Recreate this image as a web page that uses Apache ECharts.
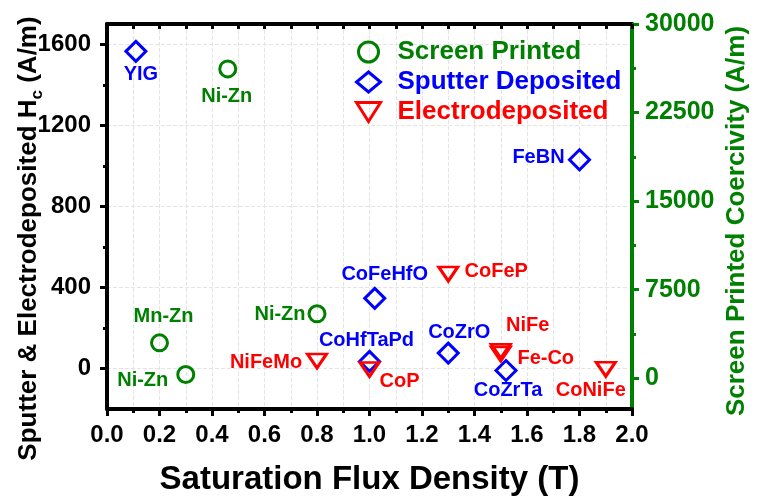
<!DOCTYPE html>
<html>
<head>
<meta charset="utf-8">
<script src="https://cdn.jsdelivr.net/npm/echarts@6/dist/echarts.min.js"></script>
<style>
  html, body { margin: 0; padding: 0; background: #fff; }
  #chart { width: 758px; height: 496px; }
</style>
</head>
<body>
<div id="chart"></div>
<script>
// Soft-magnetic materials: coercivity vs. saturation flux density

// Screen printed ferrites (right axis, A/m)
const screenNames = ['Mn-Zn', 'Ni-Zn', 'Ni-Zn', 'Ni-Zn'];
const screenBs    = [0.20, 0.30, 0.46, 0.80];
const screenHc    = [3000, 320, 26200, 5460];

// Sputter deposited films (left axis, A/m)
const sputterNames = ['YIG', 'FeBN', 'CoFeHfO', 'CoHfTaPd', 'CoZrO', 'CoZrTa'];
const sputterBs    = [0.11, 1.80, 1.02, 1.00, 1.30, 1.52];
const sputterHc    = [1565, 1030, 346, 35, 76, -10];

// Electrodeposited films (left axis, A/m)
const electroNames = ['CoFeP', 'NiFeMo', 'CoP', 'NiFe', 'Fe-Co', 'CoNiFe'];
const electroBs    = [1.30, 0.80, 1.00, 1.50, 1.50, 1.90];
const electroHc    = [466, 37, -5, 85, 72, -4];

// Axis tick values
const leftTicks  = [0, 400, 800, 1200, 1600];
const leftMinor  = [200, 600, 1000, 1400];
const rightTicks = [0, 7500, 15000, 22500, 30000];
const rightMinor = [3750, 11250, 18750, 26250];

const FONT = 'Liberation Sans';
const GREEN = '#008000', BLUE = '#0000ff', RED = '#ff0000';

// Label placement (offset of text centre from marker centre, px)
const labelOffset = {
  'screen-0': [4, -26], 'screen-1': [-43, 6], 'screen-2': [-1, 28], 'screen-3': [-37, 1],
  'sputter-0': [5, 23], 'sputter-1': [-41, -2], 'sputter-2': [10, -24], 'sputter-3': [-3, -21],
  'sputter-4': [11, -21], 'sputter-5': [2, 20],
  'electro-0': [48, -3], 'electro-1': [-51, 2], 'electro-2': [30, 12], 'electro-3': [27, -26],
  'electro-4': [45, 5], 'electro-5': [-15, 21]
};

function buildData(key, names, xs, ys, color) {
  return names.map((n, i) => ({
    name: n,
    value: [xs[i], ys[i]],
    label: {
      show: true, position: 'inside', offset: labelOffset[key + '-' + i],
      formatter: '{b}', color: color, fontSize: 20, fontWeight: 'bold', fontFamily: FONT,
      textBorderWidth: 0, textBorderColor: 'transparent', opacity: 1
    }
  }));
}

const hollow = c => ({ color: 'rgba(0,0,0,0)', borderColor: c, borderWidth: 3, opacity: 1 });

const chart = echarts.init(document.getElementById('chart'), null, { renderer: 'canvas' });

const gridLine = { show: true, lineStyle: { color: '#e4e4e4', type: 'dashed', width: 1 } };
const plotRect = { left: 107, right: 126, top: 24, bottom: 87, containLabel: false, outerBoundsMode: 'none' };
const plain = v => String(v);

chart.setOption({
  animation: false,
  backgroundColor: '#fff',
  // grid 0 carries the data; grid 1 only draws minor ticks on both value axes
  grid: [Object.assign({}, plotRect), Object.assign({}, plotRect)],
  legend: {
    orient: 'vertical', left: 350, top: 34,
    itemWidth: 24, itemHeight: 20, itemGap: 4,
    selectedMode: false,
    textStyle: { fontSize: 26, fontWeight: 'bold', fontFamily: FONT, padding: [0, 0, 0, 12] },
    data: [
      { name: 'Screen Printed', icon: 'circle', textStyle: { color: GREEN }, itemStyle: hollow(GREEN) },
      { name: 'Sputter Deposited', icon: 'diamond', textStyle: { color: BLUE }, itemStyle: hollow(BLUE) },
      { name: 'Electrodeposited', icon: 'path://M0,0 L24,0 L12,19 Z', textStyle: { color: RED }, itemStyle: hollow(RED) }
    ]
  },
  xAxis: [
    {
      type: 'value', gridIndex: 0, position: 'bottom', min: 0, max: 2, interval: 0.2,
      axisLine: { show: true, onZero: false, lineStyle: { color: '#000', width: 4 } },
      axisTick: { show: true, inside: false, length: 7, lineStyle: { color: '#000', width: 3 } },
      minorTick: { show: true, splitNumber: 2, length: 4, lineStyle: { color: '#000', width: 3 } },
      splitLine: gridLine,
      minorSplitLine: gridLine,
      axisLabel: {
        color: '#000', fontSize: 24, fontWeight: 'bold', fontFamily: FONT, margin: 14,
        formatter: v => v.toFixed(1)
      },
      name: 'Saturation Flux Density (T)', nameLocation: 'middle', nameGap: 54,
      nameTextStyle: { color: '#000', fontSize: 33, fontWeight: 'bold', fontFamily: FONT }
    },
    {
      type: 'value', gridIndex: 0, position: 'top', min: 0, max: 2, interval: 0.1,
      axisLine: { show: true, onZero: false, lineStyle: { color: '#000', width: 4 } },
      axisTick: { show: true, inside: true, length: 5, lineStyle: { color: '#000', width: 3 } },
      axisLabel: { show: false }, splitLine: { show: false }
    },
    {
      type: 'value', gridIndex: 1, min: 0, max: 2, show: false
    }
  ],
  yAxis: [
    {
      type: 'value', gridIndex: 0, position: 'left', min: -200, max: 1700, interval: 200,
      axisLine: { show: true, onZero: false, lineStyle: { color: '#000', width: 4 } },
      axisTick: { show: true, inside: false, length: 7, customValues: leftTicks, lineStyle: { color: '#000', width: 3 } },
      splitLine: gridLine,
      axisLabel: {
        customValues: leftTicks, formatter: plain,
        color: '#000', fontSize: 24, fontWeight: 'bold', fontFamily: FONT, margin: 16
      },
      name: 'Sputter & Electrodeposited H{sub|c} (A/m)', nameLocation: 'middle', nameGap: 61,
      nameMoveOverlap: false,
      nameTextStyle: {
        color: '#000', fontSize: 26, fontWeight: 'bold', fontFamily: FONT, lineHeight: 34,
        padding: [0, 44, 0, 0],
        rich: { sub: { fontSize: 17, fontWeight: 'bold', fontFamily: FONT, color: '#000', verticalAlign: 'bottom' } }
      }
    },
    {
      type: 'value', gridIndex: 0, position: 'right', min: -2600, max: 30000,
      axisLine: { show: true, onZero: false, lineStyle: { color: GREEN, width: 4 } },
      axisTick: { show: true, inside: false, length: 7, customValues: rightTicks, lineStyle: { color: GREEN, width: 3 } },
      splitLine: { show: false },
      axisLabel: {
        customValues: rightTicks, formatter: plain,
        color: GREEN, fontSize: 25, fontWeight: 'bold', fontFamily: FONT, margin: 13
      },
      name: 'Screen Printed Coercivity (A/m)', nameLocation: 'middle', nameGap: 92,
      nameMoveOverlap: false,
      nameTextStyle: { color: GREEN, fontSize: 26, fontWeight: 'bold', fontFamily: FONT, padding: [0, 9, 0, 0] }
    },
    {
      type: 'value', gridIndex: 1, position: 'left', min: -200, max: 1700,
      axisLine: { show: false },
      axisTick: { show: true, inside: false, length: 4, customValues: leftMinor, lineStyle: { color: '#000', width: 3 } },
      axisLabel: { show: false }, splitLine: { show: false }
    },
    {
      type: 'value', gridIndex: 1, position: 'right', min: -2600, max: 30000,
      axisLine: { show: false },
      axisTick: { show: true, inside: false, length: 4, customValues: rightMinor, lineStyle: { color: GREEN, width: 3 } },
      axisLabel: { show: false }, splitLine: { show: false }
    }
  ],
  series: [
    {
      name: 'Screen Printed', type: 'scatter', xAxisIndex: 0, yAxisIndex: 1,
      symbol: 'circle', symbolSize: 16,
      itemStyle: hollow(GREEN),
      data: buildData('screen', screenNames, screenBs, screenHc, GREEN)
    },
    {
      name: 'Sputter Deposited', type: 'scatter', xAxisIndex: 0, yAxisIndex: 0,
      symbol: 'diamond', symbolSize: [20, 20],
      itemStyle: hollow(BLUE),
      data: buildData('sputter', sputterNames, sputterBs, sputterHc, BLUE)
    },
    {
      name: 'Electrodeposited', type: 'scatter', xAxisIndex: 0, yAxisIndex: 0,
      symbol: 'triangle', symbolRotate: 180, symbolSize: [19, 14],
      itemStyle: hollow(RED),
      data: buildData('electro', electroNames, electroBs, electroHc, RED)
    }
  ]
});
</script>
</body>
</html>
